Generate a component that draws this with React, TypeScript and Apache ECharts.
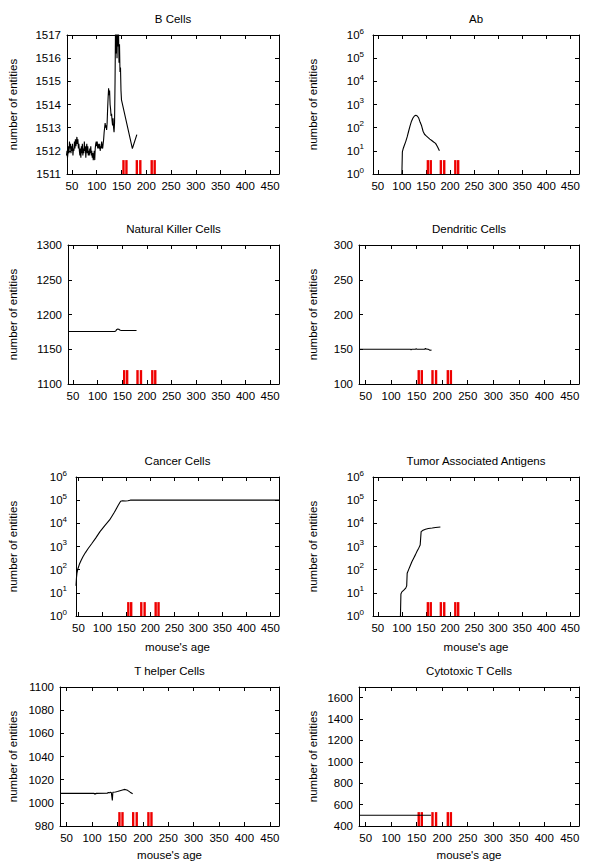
import React, { useEffect, useRef } from 'react';
import * as echarts from 'echarts';

// ---------- data ----------
const xTicks = [50, 100, 150, 200, 250, 300, 350, 400, 450];
const vaccineDays = [154, 160, 181, 188, 211, 217];

const bCellTicks = [1511, 1512, 1513, 1514, 1515, 1516, 1517];
const nkTicks = [1100, 1150, 1200, 1250, 1300];
const dcTicks = [100, 150, 200, 250, 300];
const thTicks = [980, 1000, 1020, 1040, 1060, 1080, 1100];
const tcTicks = [400, 600, 800, 1000, 1200, 1400, 1600];

const bCellX = [39, 40, 41, 42, 43, 44, 45, 46, 47, 48, 49, 50, 51, 52, 53, 54, 55, 56, 57, 58, 59, 60,
  61, 62, 63, 64, 65, 66, 67, 68, 69, 70, 71, 72, 73, 74, 75, 76, 77, 78, 79, 80,
  81, 82, 83, 84, 85, 86, 87, 88, 89, 90, 91, 92, 93, 94, 95, 96, 97, 98, 99, 100,
  101, 102, 103, 104, 105, 106, 107, 108, 109, 110, 111, 112, 113, 114, 115, 116, 117, 118, 119, 120,
  121, 122, 123, 124, 125, 126, 127, 128, 129, 130, 131, 132, 133, 134, 135, 136, 137, 138, 139, 140,
  141, 142, 143, 144, 145, 146, 147, 148, 149, 150, 172, 181];
const bCellY = [1511.8, 1512.0, 1511.7, 1511.9, 1512.2, 1511.9, 1512.4, 1512.1, 1512.3, 1511.9, 1512.2, 1512.0, 1512.3, 1511.8, 1512.1, 1512.0, 1512.4, 1512.1, 1512.5, 1512.2, 1512.4, 1512.6,
  1512.3, 1512.5, 1512.1, 1512.3, 1512.0, 1511.8, 1512.1, 1511.7, 1512.2, 1511.9, 1512.3, 1511.8, 1512.1, 1511.9, 1512.4, 1512.0, 1512.2, 1511.7, 1512.1, 1512.3,
  1511.9, 1512.2, 1511.8, 1512.0, 1511.8, 1512.1, 1511.9, 1512.2, 1511.8, 1512.0, 1511.7, 1511.9, 1511.6, 1511.8, 1512.0, 1511.6, 1512.1, 1512.3, 1512.4, 1512.2,
  1512.4, 1512.1, 1512.3, 1512.2, 1512.1, 1512.3, 1512.0, 1512.2, 1512.1, 1512.4, 1512.2, 1512.1, 1512.1, 1512.5, 1512.8, 1513.0, 1513.2, 1513.0, 1513.1, 1512.9,
  1513.2, 1513.8, 1514.3, 1514.7, 1514.4, 1514.6, 1514.0, 1513.8, 1513.5, 1513.6, 1513.3, 1513.1, 1513.4, 1513.0, 1512.8, 1513.2, 1515.0, 1517.5, 1516.2, 1517.4,
  1516.0, 1517.6, 1516.5, 1517.2, 1515.8, 1516.6, 1515.4, 1515.6, 1514.6, 1514.2, 1512.1, 1512.7];

const abX = [100, 101, 103, 105, 108, 111, 114, 117, 120, 123, 126, 129, 132, 135, 138, 141, 144, 147, 150, 154, 158, 162, 166, 170, 174, 178];
const abY = [1, 9, 13, 17, 25, 40, 70, 120, 190, 260, 320, 340, 320, 260, 170, 120, 70, 52, 45, 38, 32, 28, 24, 21, 15, 10];

const nkX = [41, 135, 137, 139, 141, 143, 145, 147, 150, 179];
const nkY = [1175.5, 1175.5, 1176.5, 1178.5, 1179, 1178.8, 1177.8, 1177.2, 1177, 1177];

const dcX = [37, 138, 139, 140, 148, 149, 150, 155, 156, 157, 166, 167, 168, 169, 172, 174, 175, 176, 179];
const dcY = [150, 150, 149.2, 150, 150, 151, 150, 150, 149.3, 150, 150, 151.5, 150.5, 151, 150, 149.5, 149, 148.6, 148.8];

const cancerX = [45, 46, 47, 49, 52, 56, 60, 65, 70, 78, 86, 95, 105, 115, 125, 133, 138, 142, 148, 153, 158, 468];
const cancerY = [20, 45, 70, 110, 170, 260, 380, 560, 800, 1350, 2300, 4400, 8000, 14000, 30000, 60000, 90000, 95000, 92000, 95000, 100000, 100000];

const taaX = [97, 98, 100, 104, 108, 110, 111, 114, 118, 121, 125, 128, 132, 135, 138, 140, 144, 149, 155, 163, 170, 175, 180];
const taaY = [1, 9, 11, 13, 16, 20, 70, 100, 160, 225, 330, 435, 650, 850, 1150, 4400, 5000, 5600, 6000, 6300, 6600, 6800, 7000];

const thX = [37, 104, 105, 106, 107, 108, 130, 132, 134, 136, 138, 139, 140, 141, 142, 146, 150, 155, 160, 165, 170, 175, 180];
const thY = [1008.2, 1008.2, 1007.4, 1008.2, 1007.5, 1008.2, 1008.3, 1008.9, 1008.6, 1009.1, 1008.8, 1009.2, 1002, 1009.2, 1009.1, 1009.4, 1009.8, 1010.4, 1011, 1011.6, 1010.8, 1009.2, 1007.8];

const tcX = [37, 178];
const tcY = [500, 500];

// ---------- layout ----------
const FONT = '"Liberation Sans", Arial, Helvetica, sans-serif';
const FS = 11.5;
const X_MAX = 468;
const PLOT_H = 139;

type Panel = {
  title: string; xs: number[]; ys: number[]; log: boolean; yMin: number; yMax: number; yTicks?: number[];
  xMin: number; left: number; right: number; top: number; col: number; showXName: boolean;
};

const panels: Panel[] = [
  { title: 'B Cells', xs: bCellX, ys: bCellY, log: false, yMin: 1511, yMax: 1517, yTicks: bCellTicks, xMin: 40, left: 67, right: 279, top: 35, col: 0, showXName: false },
  { title: 'Ab', xs: abX, ys: abY, log: true, yMin: 1, yMax: 1e6, xMin: 40, left: 373, right: 579, top: 35, col: 1, showXName: false },
  { title: 'Natural Killer Cells', xs: nkX, ys: nkY, log: false, yMin: 1100, yMax: 1300, yTicks: nkTicks, xMin: 40, left: 68, right: 279, top: 245, col: 0, showXName: false },
  { title: 'Dendritic Cells', xs: dcX, ys: dcY, log: false, yMin: 100, yMax: 300, yTicks: dcTicks, xMin: 37, left: 359, right: 579, top: 245, col: 1, showXName: false },
  { title: 'Cancer Cells', xs: cancerX, ys: cancerY, log: true, yMin: 1, yMax: 1e6, xMin: 45, left: 76, right: 279, top: 477, col: 0, showXName: true },
  { title: 'Tumor Associated Antigens', xs: taaX, ys: taaY, log: true, yMin: 1, yMax: 1e6, xMin: 40, left: 373, right: 579, top: 477, col: 1, showXName: true },
  { title: 'T helper Cells', xs: thX, ys: thY, log: false, yMin: 980, yMax: 1100, yTicks: thTicks, xMin: 37, left: 60, right: 279, top: 687, col: 0, showXName: true },
  { title: 'Cytotoxic T Cells', xs: tcX, ys: tcY, log: false, yMin: 400, yMax: 1700, yTicks: tcTicks, xMin: 37, left: 359, right: 579, top: 687, col: 1, showXName: true },
];

function textStyle(text: string) {
  return {
    text, textAlign: 'center', textVerticalAlign: 'middle', fill: '#000',
    stroke: 'none', lineWidth: 0,
    fontFamily: FONT, fontSize: FS, fontWeight: 'normal',
  };
}

function buildOption() {
  const grid: any[] = [];
  const xAxis: any[] = [];
  const yAxis: any[] = [];
  const series: any[] = [];
  const graphic: any[] = [];
  const lineStyle = { color: '#000', width: 1 };
  const labelStyle = { color: '#000', fontFamily: FONT, fontSize: FS };

  panels.forEach((p, i) => {
    grid.push({ left: p.left, top: p.top, width: p.right - p.left, height: PLOT_H, containLabel: false });
    const xBase = {
      type: 'value', gridIndex: i, min: p.xMin, max: X_MAX,
      axisLine: { show: true, onZero: false, lineStyle },
      axisTick: { show: true, inside: true, length: 4, customValues: xTicks, lineStyle },
      splitLine: { show: false },
    };
    xAxis.push({ ...xBase, position: 'bottom', axisLabel: { show: true, customValues: xTicks, margin: 6, formatter: (v: number) => String(v), ...labelStyle } });
    xAxis.push({ ...xBase, position: 'top', axisLabel: { show: false } });

    let yBase: any;
    let yLabel: any;
    if (p.log) {
      yBase = {
        type: 'log', logBase: 10, gridIndex: i, min: p.yMin, max: p.yMax,
        axisLine: { show: true, onZero: false, lineStyle },
        axisTick: { show: true, inside: true, length: 4, lineStyle },
        splitLine: { show: false }, minorTick: { show: false },
      };
      yLabel = {
        show: true, margin: 9, showMinLabel: true, showMaxLabel: true,
        formatter: (v: number) => '{b|10}{s|' + Math.round(Math.log10(v)) + '}',
        rich: {
          b: { ...labelStyle, lineHeight: 16 },
          s: { color: '#000', fontFamily: FONT, fontSize: 8, lineHeight: 8, verticalAlign: 'top' },
        },
      };
    } else {
      yBase = {
        type: 'value', gridIndex: i, min: p.yMin, max: p.yMax,
        axisLine: { show: true, onZero: false, lineStyle },
        axisTick: { show: true, inside: true, length: 4, customValues: p.yTicks, lineStyle },
        splitLine: { show: false },
      };
      yLabel = { show: true, customValues: p.yTicks, margin: 6, formatter: (v: number) => String(v), ...labelStyle };
    }
    yAxis.push({ ...yBase, position: 'left', axisLabel: yLabel });
    yAxis.push({ ...yBase, position: 'right', axisLabel: { show: false } });

    series.push({
      type: 'line', xAxisIndex: 2 * i, yAxisIndex: 2 * i,
      data: p.xs.map((x, k) => [x, p.ys[k]]),
      showSymbol: false, symbol: 'none', clip: true,
      lineStyle: { color: '#000', width: 1.1 }, silent: true,
    });
    const redTop = p.log ? Math.pow(10, 0.1 * Math.log10(p.yMax / p.yMin)) * p.yMin : p.yMin + 0.1 * (p.yMax - p.yMin);
    series.push({
      type: 'custom', xAxisIndex: 2 * i, yAxisIndex: 2 * i, silent: true, clip: true,
      data: vaccineDays.map((d) => [d, redTop, p.yMin]),
      renderItem: (_params: any, api: any) => {
        const x = api.value(0);
        const p0 = api.coord([x, api.value(2)]);
        const p1 = api.coord([x, api.value(1)]);
        return {
          type: 'rect',
          shape: { x: p0[0] - 1.2, y: p1[1], width: 2.4, height: p0[1] - p1[1] },
          style: { fill: '#ee0000' },
        };
      },
      z: 3,
    });

    const cx = (p.left + p.right) / 2;
    graphic.push({ type: 'text', x: cx, y: p.top - 16, style: textStyle(p.title) });
    graphic.push({
      type: 'text', x: p.col === 0 ? 13 : 313, y: p.top + PLOT_H / 2, rotation: Math.PI / 2,
      style: textStyle('number of entities'),
    });
    if (p.showXName) {
      graphic.push({ type: 'text', x: cx, y: p.top + PLOT_H + (p.top > 600 ? 29 : 31), style: textStyle("mouse's age") });
    }
  });

  return {
    animation: false,
    backgroundColor: '#fff',
    grid, xAxis, yAxis, series, graphic,
  };
}

export default function App() {
  const ref = useRef<HTMLDivElement>(null);
  useEffect(() => {
    if (!ref.current) return;
    const chart = echarts.init(ref.current, undefined, { renderer: 'svg' });
    chart.setOption(buildOption() as any);
    return () => chart.dispose();
  }, []);
  return (
    <div
      ref={ref}
      style={{ position: 'absolute', left: 0, top: 0, width: 600, height: 863, background: '#fff' }}
    />
  );
}
